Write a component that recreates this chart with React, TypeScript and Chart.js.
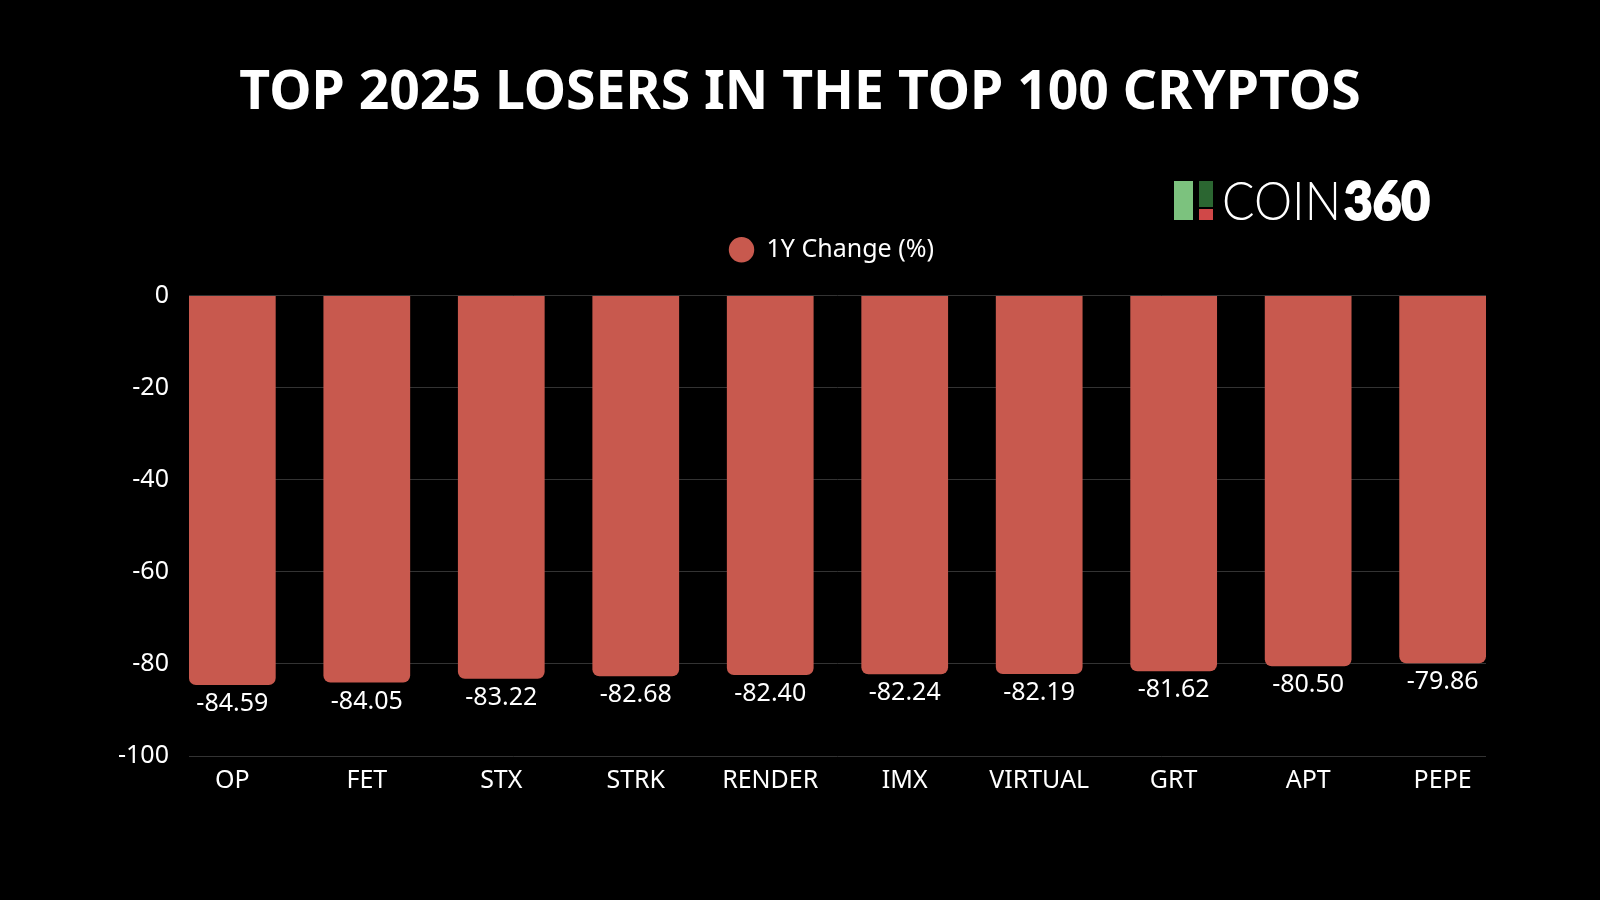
import React, { useEffect, useRef } from "react";
import { Chart, registerables } from "chart.js";

Chart.register(...registerables);

const titleText = "TOP 2025 LOSERS IN THE TOP 100 CRYPTOS";
const seriesLabel = "1Y Change (%)";
const categories = ["OP", "FET", "STX", "STRK", "RENDER", "IMX", "VIRTUAL", "GRT", "APT", "PEPE"];
const changeValues = [-84.59, -84.05, -83.22, -82.68, -82.4, -82.24, -82.19, -81.62, -80.5, -79.86];
const yTickValues = [0, -20, -40, -60, -80, -100];

const BAR_COLOR = "#C8594E";
const FONT = '"Noto Sans", "Open Sans", sans-serif';

const valueLabelPlugin = {
  id: "valueLabels",
  afterDatasetsDraw(chart: any) {
    const ctx = chart.ctx;
    const meta = chart.getDatasetMeta(0);
    ctx.save();
    ctx.font = `25px ${FONT}`;
    ctx.fillStyle = "#ffffff";
    ctx.textAlign = "center";
    ctx.textBaseline = "middle";
    meta.data.forEach((bar: any, i: number) => {
      ctx.fillText(changeValues[i].toFixed(2), bar.x, bar.y + 19);
    });
    ctx.restore();
  },
};

const legendShiftPlugin = {
  id: "legendShift",
  afterLayout(chart: any) {
    const l = chart.legend;
    if (l) {
      l.left -= 6;
      l.right -= 6;
    }
  },
};

const logoPlugin = {
  id: "logo",
  afterDraw(chart: any) {
    const ctx = chart.ctx;
    ctx.save();
    ctx.fillStyle = "#7CC27E";
    ctx.fillRect(1174, 181, 19, 39);
    ctx.fillStyle = "#2B6631";
    ctx.fillRect(1199, 181, 14, 26);
    ctx.fillStyle = "#D04848";
    ctx.fillRect(1199, 209, 14, 11);
    ctx.fillStyle = "#ffffff";
    ctx.strokeStyle = "#ffffff";
    ctx.textBaseline = "alphabetic";
    ctx.textAlign = "left";
    ctx.font = `300 54px Lato, ${FONT}`;
    ctx.fillText("COIN", 1222, 220, 119);
    ctx.font = `900 54px Lato, ${FONT}`;
    ctx.lineWidth = 2;
    ctx.lineJoin = "round";
    ctx.fillText("360", 1344, 220, 86);
    ctx.strokeText("360", 1344, 220, 86);
    ctx.restore();
  },
};

export default function App() {
  const canvasRef = useRef<HTMLCanvasElement | null>(null);

  useEffect(() => {
    if (!canvasRef.current) return;
    const chart = new Chart(canvasRef.current, {
      type: "bar",
      data: {
        datasets: [
          {
            label: seriesLabel,
            data: categories.map((_, i) => ({ x: i, y: changeValues[i] })),
            backgroundColor: BAR_COLOR,
            borderColor: BAR_COLOR,
            borderWidth: 0,
            borderRadius: 7,
            borderSkipped: "start",
            categoryPercentage: 1,
            barPercentage: 0.645,
            yAxisID: "y",
          },
        ],
      },
      options: {
        animation: false,
        responsive: false,
        maintainAspectRatio: false,
        devicePixelRatio: 1,
        layout: { padding: { top: 0, left: 98, right: 98, bottom: 102 } },
        plugins: {
          title: {
            display: true,
            text: titleText,
            color: "#ffffff",
            font: { family: FONT, size: 53.5, weight: "bold" },
            padding: { top: 62, bottom: 101 },
          },
          subtitle: {
            display: true,
            text: "",
            weight: 500,
            font: { size: 1 },
            padding: { top: 22, bottom: 0 },
          },
          legend: {
            display: true,
            fullSize: false,
            labels: {
              color: "#ffffff",
              font: { family: FONT, size: 25 },
              usePointStyle: true,
              pointStyle: "circle",
              boxWidth: 25,
              boxHeight: 18,
              padding: 10,
            },
          },
          tooltip: { enabled: false },
        },
        scales: {
          x: {
            type: "linear",
            min: -0.3225,
            max: 9.3225,
            offset: false,
            grid: { display: false },
            border: { display: false },
            afterBuildTicks: (scale: any) => {
              scale.ticks = categories.map((_, i) => ({ value: i }));
            },
            ticks: {
              color: "#ffffff",
              font: { family: FONT, size: 25 },
              padding: 2,
              autoSkip: false,
              maxRotation: 0,
              callback: (v: any) => categories[Math.round(Number(v))] ?? "",
            },
          },
          y: {
            min: -100,
            max: 0,
            afterBuildTicks: (scale: any) => {
              scale.ticks = yTickValues.map((v) => ({ value: v }));
            },
            grid: { color: "#333333", drawTicks: false, lineWidth: 1 },
            border: { display: false },
            ticks: {
              color: "#ffffff",
              font: { family: FONT, size: 25 },
              padding: 20,
            },
          },
          y2: {
            position: "right",
            min: -100,
            max: 0,
            grid: { display: false },
            border: { display: false },
            ticks: { display: false },
            afterFit: (scale: any) => {
              scale.width = 16;
            },
          },
        },
      },
      plugins: [valueLabelPlugin, legendShiftPlugin, logoPlugin],
    } as any);
    return () => chart.destroy();
  }, []);

  return (
    <div
      style={{
        position: "fixed",
        left: 0,
        top: 0,
        width: 1600,
        height: 900,
        background: "#000000",
      }}
    >
      <canvas ref={canvasRef} width={1600} height={900} style={{ width: 1600, height: 900, display: "block" }} />
    </div>
  );
}
